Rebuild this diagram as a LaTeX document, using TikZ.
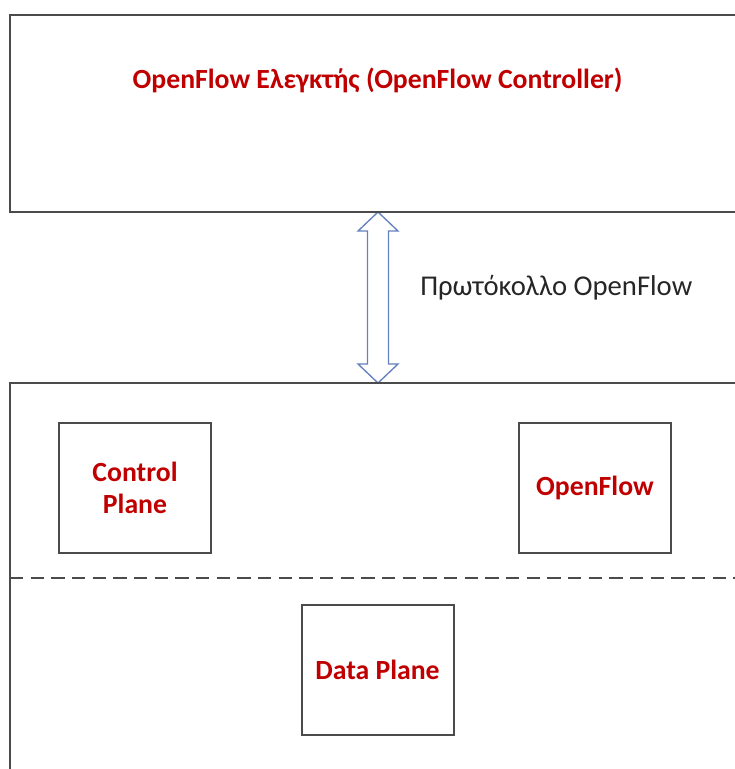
\documentclass[tikz,border=0pt]{standalone}
\usepackage{fontspec}
\setmainfont{Carlito}
\usetikzlibrary{positioning}
\definecolor{labelred}{RGB}{192,0,0}
\definecolor{framegray}{RGB}{75,75,75}
\definecolor{arrowblue}{RGB}{100,128,190}

\tikzset{
  frame/.style={draw=framegray, line width=1.5pt},
  planebox/.style={frame, minimum width=114pt, minimum height=98pt, inner sep=0pt,
    font=\fontsize{20.8}{24}\selectfont\bfseries, text=labelred, align=center},
}

\begin{document}
\begin{tikzpicture}[x=0.75pt,y=-0.75pt]
\useasboundingbox (0,0) rectangle (735,769);
\clip (0,0) rectangle (735,769);

% protocol arrow between controller and switch
\coordinate (arrtop) at (378,212);
\coordinate (arrbot) at (378,383);
\draw[arrowblue, line width=1pt, fill=white] (arrtop) -- ++(20,19) -- ++(-9.5,0) -- ++(0,133)
  -- ++(9.5,0) -- (arrbot) -- ++(-20,-19) -- ++(9.5,0) -- ++(0,-133) -- ++(-9.5,0) -- cycle;

% controller frame and switch frame (cut at the page edge)
\draw[frame] (745,15) -- (10,15) -- (10,212) -- (745,212);
\draw[frame] (745,383) -- (10,383) -- (10,780);
\draw[frame, dash pattern=on 10pt off 5.5pt] (10,578) -- (740,578);

\node[font=\fontsize{20.8}{24}\selectfont\bfseries, text=labelred] (ctrllabel) at (377.5,80)
  {OpenFlow Ελεγκτής (OpenFlow Controller)};
\node[anchor=west, inner sep=0pt, font=\fontsize{21.5}{24}\selectfont, text=black!85] (protolabel)
  at (420,288) {Πρωτόκολλο OpenFlow};

% planes inside the switch
\node[planebox] (ctrlplane) at (135,488) {Control\\Plane};
\node[planebox, right=229.5pt of ctrlplane] (ofplane) {OpenFlow};
\node[planebox] (dataplane) at (377.5,670) {Data Plane};
\end{tikzpicture}
\end{document}
